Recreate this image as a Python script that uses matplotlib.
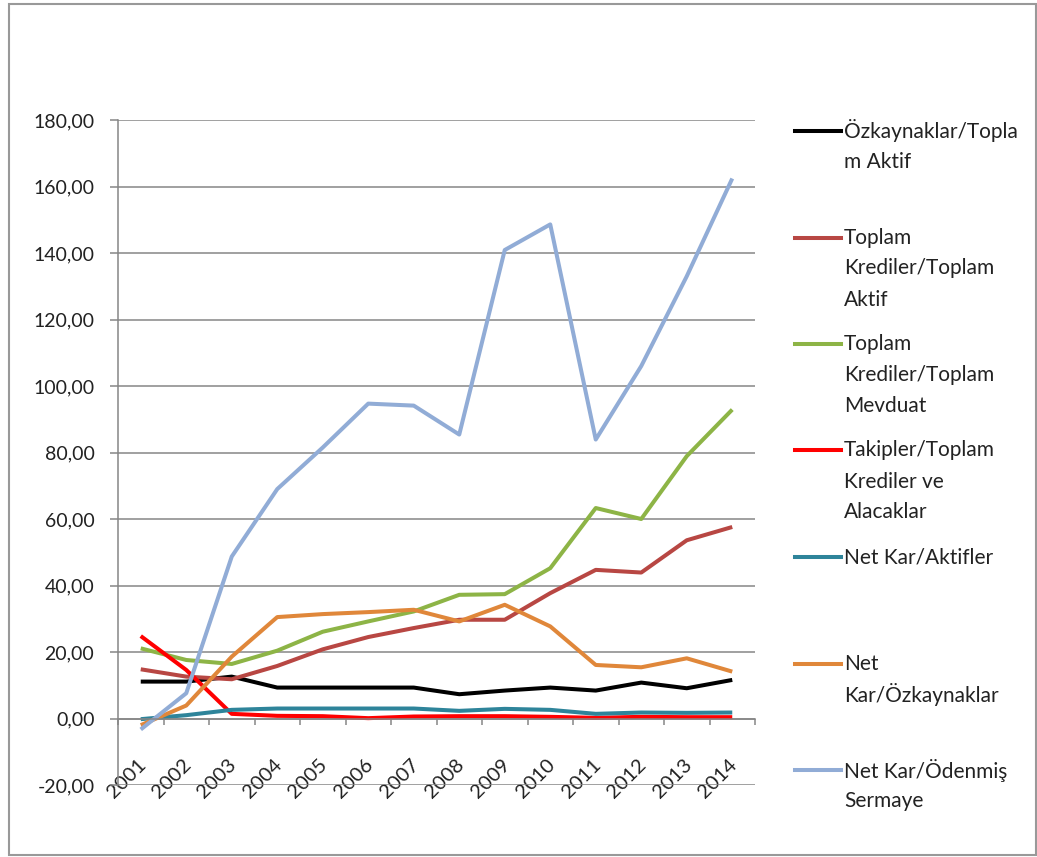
import numpy as np
import matplotlib
matplotlib.use('Agg')
import matplotlib.pyplot as plt
import matplotlib.transforms as mtransforms
from matplotlib.lines import Line2D
from matplotlib.patches import Rectangle
from matplotlib.ticker import FuncFormatter

plt.rcParams['font.family'] = ['Lato', 'DejaVu Sans']

years = [str(y) for y in range(2001, 2015)]

ozkaynak_aktif = [11.1, 11.1, 12.6, 9.3, 9.3, 9.3, 9.3, 7.3, 8.4, 9.3, 8.4, 10.8, 9.1, 11.6]
kredi_aktif = [14.8, 12.6, 11.8, 15.8, 20.8, 24.5, 27.2, 29.7, 29.7, 37.7, 44.7, 43.9, 53.6, 57.6]
kredi_mevduat = [21.1, 17.6, 16.4, 20.4, 26.1, 29.2, 32.2, 37.2, 37.4, 45.2, 63.3, 60.0, 78.9, 92.9]
takipler = [24.8, 14.6, 1.4, 0.8, 0.7, 0.1, 0.6, 0.7, 0.7, 0.5, 0.2, 0.5, 0.4, 0.4]
netkar_aktif = [-0.2, 1.0, 2.6, 3.0, 3.0, 3.0, 3.0, 2.3, 2.9, 2.6, 1.4, 1.8, 1.7, 1.8]
netkar_ozkaynak = [-2.0, 3.9, 18.6, 30.5, 31.4, 32.0, 32.7, 29.2, 34.2, 27.7, 16.1, 15.4, 18.1, 14.1]
netkar_sermaye = [-3.3, 7.6, 48.7, 69.0, 81.5, 94.7, 94.1, 85.4, 140.9, 148.6, 83.9, 106.0, 133.0, 162.4]

series = [
    (ozkaynak_aktif, '#000000', ['Özkaynaklar/Topla', 'm Aktif']),
    (kredi_aktif, '#B84743', ['Toplam', 'Krediler/Toplam', 'Aktif']),
    (kredi_mevduat, '#8DB446', ['Toplam', 'Krediler/Toplam', 'Mevduat']),
    (takipler, '#FF0000', ['Takipler/Toplam', 'Krediler ve', 'Alacaklar']),
    (netkar_aktif, '#2E849A', ['Net Kar/Aktifler']),
    (netkar_ozkaynak, '#E0873A', ['Net', 'Kar/Özkaynaklar']),
    (netkar_sermaye, '#91ACD6', ['Net Kar/Ödenmiş', 'Sermaye']),
]

W, H = 1037, 857
fig = plt.figure(figsize=(W / 100, H / 100), dpi=100)
ax = fig.add_axes([118 / W, 1 - 785 / H, (755 - 118) / W, (785 - 120) / H])

x = np.arange(len(years))
for vals, col, _ in series:
    ax.plot(x, vals, color=col, lw=2.9, solid_joinstyle='round', solid_capstyle='butt')

grid_col = '#868686'
ax.set_xlim(-0.5, len(years) - 0.5)
ax.set_ylim(-20, 180)
ax.set_yticks(np.arange(-20, 181, 20))
ax.yaxis.set_major_formatter(FuncFormatter(lambda v, p: f"{v:.2f}".replace('.', ',')))
ax.yaxis.grid(True, color=grid_col, lw=1.1)
ax.set_axisbelow(True)

for s in ['top', 'right']:
    ax.spines[s].set_visible(False)
ax.spines['left'].set_color(grid_col)
ax.spines['left'].set_linewidth(1.1)
ax.spines['bottom'].set_position(('data', 0))
ax.spines['bottom'].set_color(grid_col)
ax.spines['bottom'].set_linewidth(1.1)

ax.set_xticks(x)
ax.set_xticklabels(years)
ax.set_xticks(np.arange(-0.5, len(years), 1), minor=True)
ax.tick_params(axis='x', which='major', length=0, pad=27, labelsize=14.5)
ax.tick_params(axis='x', which='minor', length=4.5, color=grid_col, width=1.1, direction='out')
ax.tick_params(axis='y', length=6, color=grid_col, width=1.1, pad=11, labelsize=14, labelcolor='#222222')

shift = mtransforms.ScaledTranslation(-0.04, 0, fig.dpi_scale_trans)
for lab in ax.get_xticklabels():
    lab.set_rotation(45)
    lab.set_ha('right')
    lab.set_va('top')
    lab.set_rotation_mode('anchor')
    lab.set_color('#222222')
    lab.set_transform(lab.get_transform() + shift)

# legend drawn by hand, Excel style
for i, (_, col, lines) in enumerate(series):
    ypx = 131 + i * 106.5
    fy = 1 - ypx / H
    fig.add_artist(Line2D([795 / W, 841 / W], [fy, fy], transform=fig.transFigure, color=col, lw=2.9))
    for k, txt in enumerate(lines):
        fig.text(844 / W, 1 - (ypx + k * 31) / H, txt, fontsize=15, va='center', ha='left', color='#222222')

fig.add_artist(Rectangle((9 / W, 2 / H), (1036 - 9) / W, (853 - 2) / H, transform=fig.transFigure,
                         fill=False, edgecolor='#999999', lw=1.5))

fig.savefig('out.png', dpi=100)
